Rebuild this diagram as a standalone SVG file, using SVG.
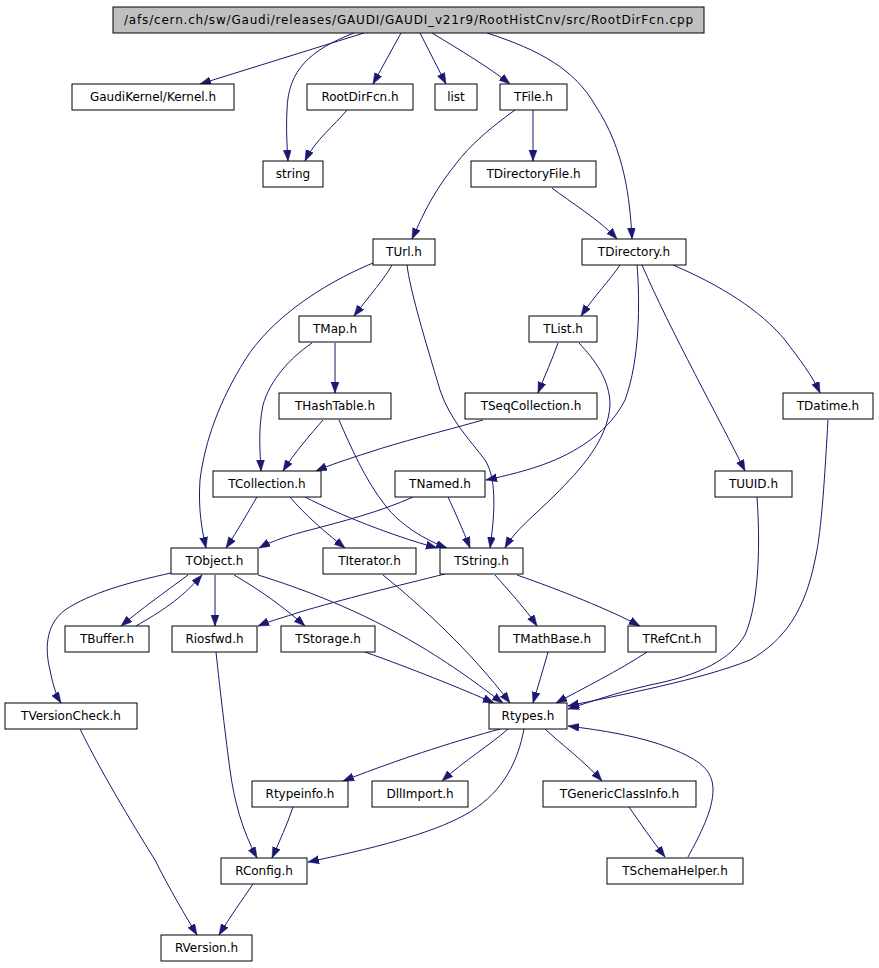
<svg xmlns="http://www.w3.org/2000/svg" width="879" height="968" viewBox="0 0 879 968">
<style>
.n rect{fill:#fff;stroke:#000;stroke-width:1}
.n.root rect{fill:#bfbfbf}
.n text{font-family:"DejaVu Sans","Liberation Sans",sans-serif;font-size:12px;text-anchor:middle;fill:#000}
.e path{fill:none;stroke:#191970;stroke-width:1;marker-end:url(#ah)}
</style>
<defs>
<marker id="ah" markerUnits="userSpaceOnUse" markerWidth="12" markerHeight="9" refX="11" refY="4" orient="auto">
<path d="M0,0 L11,4 L0,8 z" fill="#191970" stroke="#191970" stroke-width="0.5"/>
</marker>
</defs>
<g id="edges" class="e">
<path d="M364,33 L200,84"/>
<path d="M354,33 C310,50 288,70 287,110 C286,130 287,145 288,161"/>
<path d="M401,33 L373,84"/>
<path d="M420,33 L446,84"/>
<path d="M432,33 C460,50 490,68 510,84"/>
<path d="M487,33 C540,50 575,70 595,105 C625,150 630,200 632,239"/>
<path d="M347,110 C335,125 315,140 305,161"/>
<path d="M533,110 L533,161"/>
<path d="M515,110 C490,128 470,145 455,165 C435,190 425,210 412,239"/>
<path d="M552,188 C570,202 600,220 617,239"/>
<path d="M392,265 C385,278 370,295 354,316"/>
<path d="M373,263 C320,285 270,320 245,360 C220,400 205,440 200,480 C198,510 202,530 206,548"/>
<path d="M407,265 C410,290 425,340 440,390 C450,420 470,440 485,460 C498,480 494,520 490,548"/>
<path d="M620,265 C610,280 595,295 581,316"/>
<path d="M637,265 C640,300 640,360 625,400 C610,430 580,450 550,462 C530,470 505,476 486,480"/>
<path d="M642,265 C670,330 720,420 745,471"/>
<path d="M673,265 C720,285 760,310 785,340 C800,360 812,375 820,393"/>
<path d="M312,343 C290,358 270,380 263,405 C258,430 260,450 261,471"/>
<path d="M335,343 L335,393"/>
<path d="M558,343 C552,360 545,375 538,393"/>
<path d="M579,343 C595,360 610,380 610,405 C608,440 580,470 555,495 C535,515 515,530 505,548"/>
<path d="M323,420 C310,435 295,452 283,471"/>
<path d="M339,420 C350,445 365,480 385,505 C400,525 425,540 447,548"/>
<path d="M483,420 C440,432 400,442 370,452 C345,460 330,465 316,471"/>
<path d="M257,497 C248,512 238,530 226,548"/>
<path d="M290,497 C305,515 325,532 345,548"/>
<path d="M305,497 C340,515 390,535 437,548"/>
<path d="M413,497 C380,512 340,522 310,530 C290,535 272,541 259,548"/>
<path d="M448,497 C455,512 463,530 470,548"/>
<path d="M188,575 C165,592 140,610 121,626"/>
<path d="M136,626 C160,612 180,600 202,575"/>
<path d="M215,575 L215,626"/>
<path d="M234,575 C260,590 285,608 305,626"/>
<path d="M258,575 C300,588 360,610 420,646 C460,670 485,690 503,703"/>
<path d="M171,573 C130,582 90,593 65,610 C45,625 45,650 50,670 C53,685 56,695 61,703"/>
<path d="M383,575 C420,605 470,650 510,703"/>
<path d="M445,574 C400,585 340,600 300,612 C285,617 270,621 258,626"/>
<path d="M495,575 C508,590 525,608 537,626"/>
<path d="M517,575 C560,590 610,610 640,626"/>
<path d="M365,652 C410,668 460,688 494,703"/>
<path d="M548,652 C543,670 538,686 533,703"/>
<path d="M647,652 C620,670 580,690 556,703"/>
<path d="M757,497 C760,540 760,600 745,635 C730,660 700,675 650,685 C615,693 590,702 568,709"/>
<path d="M828,420 C825,470 822,530 815,560 C805,610 785,640 750,660 C700,680 620,695 568,706"/>
<path d="M80,729 C100,770 130,820 155,860 C170,890 185,915 197,935"/>
<path d="M216,652 C220,690 226,740 230,770 C234,800 242,830 257,858"/>
<path d="M500,729 C460,740 410,755 343,781"/>
<path d="M508,729 C490,745 465,760 442,781"/>
<path d="M524,729 C518,760 505,790 470,812 C440,830 390,845 308,862"/>
<path d="M545,729 C560,743 585,762 602,781"/>
<path d="M293,807 C287,825 280,840 272,858"/>
<path d="M629,807 C640,823 652,840 665,857"/>
<path d="M688,857 C700,835 713,810 713,790 C713,770 700,760 670,748 C640,736 600,730 568,726"/>
<path d="M253,884 C242,900 230,917 219,935"/>
</g>
<g id="n_root" class="n root"><rect x="113" y="7" width="591" height="26"/><text x="408.5" y="24" textLength="569" lengthAdjust="spacing">/afs/cern.ch/sw/Gaudi/releases/GAUDI/GAUDI_v21r9/RootHistCnv/src/RootDirFcn.cpp</text></g>
<g id="n_kernel" class="n"><rect x="72" y="84" width="162" height="26"/><text x="153" y="101">GaudiKernel/Kernel.h</text></g>
<g id="n_rootdirfcn" class="n"><rect x="307" y="84" width="106" height="26"/><text x="360" y="101">RootDirFcn.h</text></g>
<g id="n_list" class="n"><rect x="435" y="84" width="42" height="26"/><text x="456" y="101">list</text></g>
<g id="n_tfile" class="n"><rect x="500" y="84" width="67" height="26"/><text x="533.5" y="101">TFile.h</text></g>
<g id="n_string" class="n"><rect x="263" y="161" width="60" height="26"/><text x="293" y="178">string</text></g>
<g id="n_tdirectoryfile" class="n"><rect x="471" y="161" width="125" height="26"/><text x="533.5" y="178">TDirectoryFile.h</text></g>
<g id="n_turl" class="n"><rect x="373" y="239" width="62" height="26"/><text x="404" y="256">TUrl.h</text></g>
<g id="n_tdirectory" class="n"><rect x="582" y="239" width="104" height="26"/><text x="634" y="256">TDirectory.h</text></g>
<g id="n_tmap" class="n"><rect x="299" y="316" width="72" height="26"/><text x="335" y="333">TMap.h</text></g>
<g id="n_tlist" class="n"><rect x="529" y="316" width="68" height="26"/><text x="563" y="333">TList.h</text></g>
<g id="n_thashtable" class="n"><rect x="279" y="393" width="112" height="26"/><text x="335" y="410">THashTable.h</text></g>
<g id="n_tseqcollection" class="n"><rect x="465" y="393" width="132" height="26"/><text x="531" y="410">TSeqCollection.h</text></g>
<g id="n_tdatime" class="n"><rect x="783" y="393" width="90" height="26"/><text x="828" y="410">TDatime.h</text></g>
<g id="n_tcollection" class="n"><rect x="213" y="471" width="108" height="26"/><text x="267" y="488">TCollection.h</text></g>
<g id="n_tnamed" class="n"><rect x="395" y="471" width="90" height="26"/><text x="440" y="488">TNamed.h</text></g>
<g id="n_tuuid" class="n"><rect x="715" y="471" width="77" height="26"/><text x="753.5" y="488">TUUID.h</text></g>
<g id="n_tobject" class="n"><rect x="171" y="548" width="87" height="26"/><text x="214.5" y="565">TObject.h</text></g>
<g id="n_titerator" class="n"><rect x="323" y="548" width="93" height="26"/><text x="369.5" y="565">TIterator.h</text></g>
<g id="n_tstring" class="n"><rect x="440" y="548" width="83" height="26"/><text x="481.5" y="565">TString.h</text></g>
<g id="n_tbuffer" class="n"><rect x="65" y="626" width="84" height="26"/><text x="107" y="643">TBuffer.h</text></g>
<g id="n_riosfwd" class="n"><rect x="172" y="626" width="85" height="26"/><text x="214.5" y="643">Riosfwd.h</text></g>
<g id="n_tstorage" class="n"><rect x="281" y="626" width="94" height="26"/><text x="328" y="643">TStorage.h</text></g>
<g id="n_tmathbase" class="n"><rect x="499" y="626" width="106" height="26"/><text x="552" y="643">TMathBase.h</text></g>
<g id="n_trefcnt" class="n"><rect x="628" y="626" width="88" height="26"/><text x="672" y="643">TRefCnt.h</text></g>
<g id="n_tversioncheck" class="n"><rect x="5" y="703" width="132" height="26"/><text x="71" y="720">TVersionCheck.h</text></g>
<g id="n_rtypes" class="n"><rect x="489" y="703" width="78" height="26"/><text x="528" y="720">Rtypes.h</text></g>
<g id="n_rtypeinfo" class="n"><rect x="252" y="781" width="96" height="26"/><text x="300" y="798">Rtypeinfo.h</text></g>
<g id="n_dllimport" class="n"><rect x="372" y="781" width="96" height="26"/><text x="420" y="798">DllImport.h</text></g>
<g id="n_tgenericclassinfo" class="n"><rect x="543" y="781" width="153" height="26"/><text x="619.5" y="798">TGenericClassInfo.h</text></g>
<g id="n_rconfig" class="n"><rect x="221" y="858" width="86" height="26"/><text x="264" y="875">RConfig.h</text></g>
<g id="n_tschemahelper" class="n"><rect x="607" y="858" width="136" height="26"/><text x="675" y="875">TSchemaHelper.h</text></g>
<g id="n_rversion" class="n"><rect x="161" y="935" width="91" height="26"/><text x="206.5" y="952">RVersion.h</text></g>
</svg>
